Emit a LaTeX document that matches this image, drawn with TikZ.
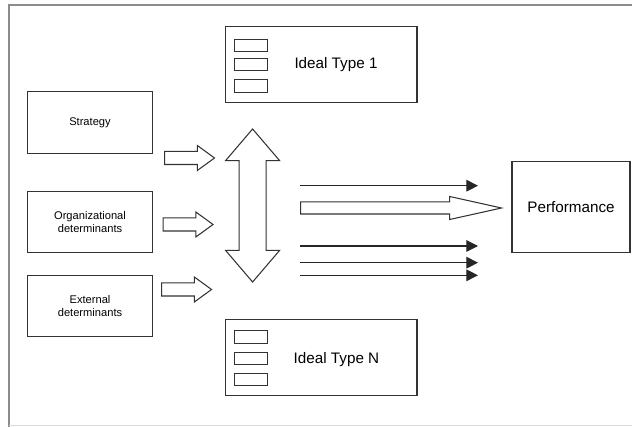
\documentclass[tikz,border=0pt]{standalone}
\usepackage{fontspec}
\setmainfont{Liberation Sans}
\usetikzlibrary{shapes.arrows, arrows.meta, positioning}

\begin{document}
\begin{tikzpicture}[
    x=0.03cm, y=-0.03cm,
    boite/.style={draw=black!80, line width=0.9pt, minimum width=3.75cm, minimum height=1.84cm, align=center, font=\fontsize{9.5}{11.6}\selectfont},
    ideal/.style={draw=black!80, line width=0.9pt, minimum width=5.74cm, minimum height=2.28cm},
    case/.style={draw=black!80, line width=0.9pt, minimum width=0.98cm, minimum height=0.375cm, inner sep=0pt},
    fleche/.style={single arrow, draw=black!80, line width=0.9pt, inner xsep=0pt, inner ysep=0.18cm, single arrow head extend=0.18cm, single arrow tip angle=72, minimum height=1.5cm, anchor=tail},
    >={Triangle[length=0.35cm, width=0.35cm]}
]
    \useasboundingbox (0,0) rectangle (632,427);

    % Cadre
    \draw[black!45, line width=1pt] (632,5) -- (9,5) -- (9,427);
    \draw[black!15, line width=0.8pt] (9,425.5) -- (632,425.5);

    % Déterminants
    \node[boite] (strategie) at (90,122.5) {Strategy};
    \node[boite] (org) at (90,222) {Organizational\\determinants};
    \node[boite] (externe) at (90,306) {External\\determinants};

    % Types idéaux
    \node[ideal] (type1) at (321.3,64.3) {};
    \node[ideal] (typeN) at (321.3,357.7) {};
    \node[font=\fontsize{13}{15}\selectfont] (t1) at (336,64.3) {Ideal Type 1};
    \node[font=\fontsize{13}{15}\selectfont] (tN) at (336.5,360) {Ideal Type N};
    \foreach \y [count=\i] in {45.5,64.3,86} {
        \node[case] (c1\i) at (251.3,\y) {};
    }
    \foreach \y [count=\i] in {337.2,358.5,379.5} {
        \node[case] (cN\i) at (251.3,\y) {};
    }

    % Performance
    \node[draw=black!80, line width=0.9pt, minimum width=3.54cm, minimum height=2.71cm, font=\fontsize{13}{15}\selectfont] (perf) at (571,207) {Performance};

    % Flèches creuses vers la double flèche
    \node[fleche] (f1) at (164,158) {};
    \node[fleche] (f2) at (162.5,224.5) {};
    \node[fleche] (f3) at (161,289.5) {};

    % Double flèche verticale
    \node[double arrow, draw=black!80, line width=0.9pt, rotate=90, inner xsep=0pt, inner ysep=0.39cm,
          double arrow head extend=0.405cm, double arrow tip angle=81, minimum height=4.59cm] (lien) at (252.6,205.5) {};

    % Grande flèche vers la performance
    \node[single arrow, draw=black!80, line width=0.9pt, inner xsep=0pt, inner ysep=0.165cm,
          single arrow head extend=0.165cm, single arrow tip angle=25, minimum height=6.03cm, anchor=tail] (grande) at (300,208) {};

    % Flèches fines
    \foreach \y [count=\i] in {185.7,246,262.7,275.3} {
        \coordinate (d\i) at (300,\y);
        \coordinate (a\i) at (478,\y);
        \draw[->, black!85, line width=0.9pt] (d\i) -- (a\i);
    }

\end{tikzpicture}
\end{document}
